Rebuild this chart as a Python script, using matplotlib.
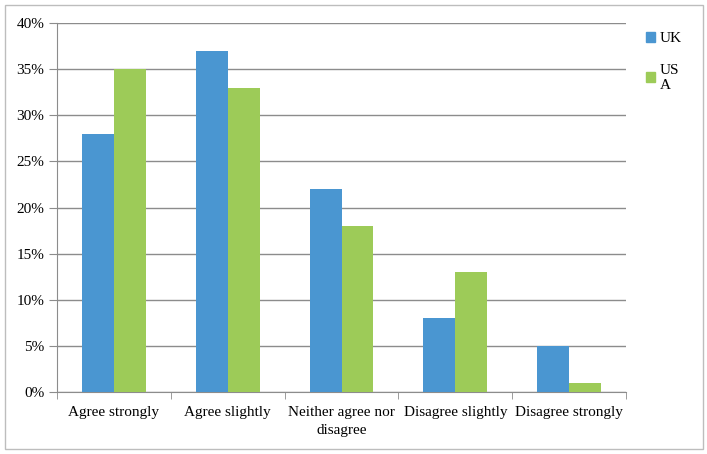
import matplotlib
matplotlib.use("Agg")
import matplotlib.pyplot as plt
import numpy as np
from matplotlib.patches import Rectangle, Patch

plt.rcParams['font.family'] = ['Liberation Serif', 'DejaVu Serif']

categories = ['Agree strongly', 'Agree slightly', 'Neither agree nor\ndisagree',
              'Disagree slightly', 'Disagree strongly']
uk = [28, 37, 22, 8, 5]
usa = [35, 33, 18, 13, 1]
series_names = ['UK', 'US\nA']
blue = '#4a96d1'
green = '#9dcb58'

fig = plt.figure(figsize=(7.07, 4.54), dpi=100)
ax = fig.add_axes([57/707, 1 - 392/454, (626 - 57)/707, (392 - 23)/454])

ind = np.arange(len(categories))
width = 0.28
ax.bar(ind - width/2, uk, width, color=blue, zorder=3)
ax.bar(ind + width/2, usa, width, color=green, zorder=3)

ax.set_xlim(-0.5, len(categories) - 0.5)
ax.set_ylim(0, 40)
ax.set_yticks(np.arange(0, 41, 5))
ax.set_yticklabels([f'{v}%' for v in range(0, 41, 5)], fontsize=11)
ax.yaxis.grid(True, color='#8c8c8c', linewidth=1, zorder=0)

ax.set_xticks(ind)
ax.set_xticklabels(categories, fontsize=11, linespacing=1.5)
ax.set_xticks(np.arange(-0.5, len(categories)), minor=True)
ax.tick_params(axis='x', which='major', length=0, pad=10)
ax.tick_params(axis='x', which='minor', length=5, color='#8c8c8c')
ax.tick_params(axis='y', length=6, color='#8c8c8c', pad=3)

for s in ['top', 'right']:
    ax.spines[s].set_visible(False)
for s in ['left', 'bottom']:
    ax.spines[s].set_color('#8c8c8c')

handles = [Patch(color=blue), Patch(color=green)]
fig.legend(handles, series_names, loc='upper left', bbox_to_anchor=(640/707, 1 - 26/454),
           frameon=False, fontsize=11, handlelength=0.6, handleheight=0.6,
           handletextpad=0.3, labelspacing=1.2, borderaxespad=0)

fig.patches.append(Rectangle((5/707, 5/454), 698/707, 444/454, transform=fig.transFigure,
                             fill=False, edgecolor='#bdbdbd', linewidth=1))

fig.savefig('out.png', dpi=100)
